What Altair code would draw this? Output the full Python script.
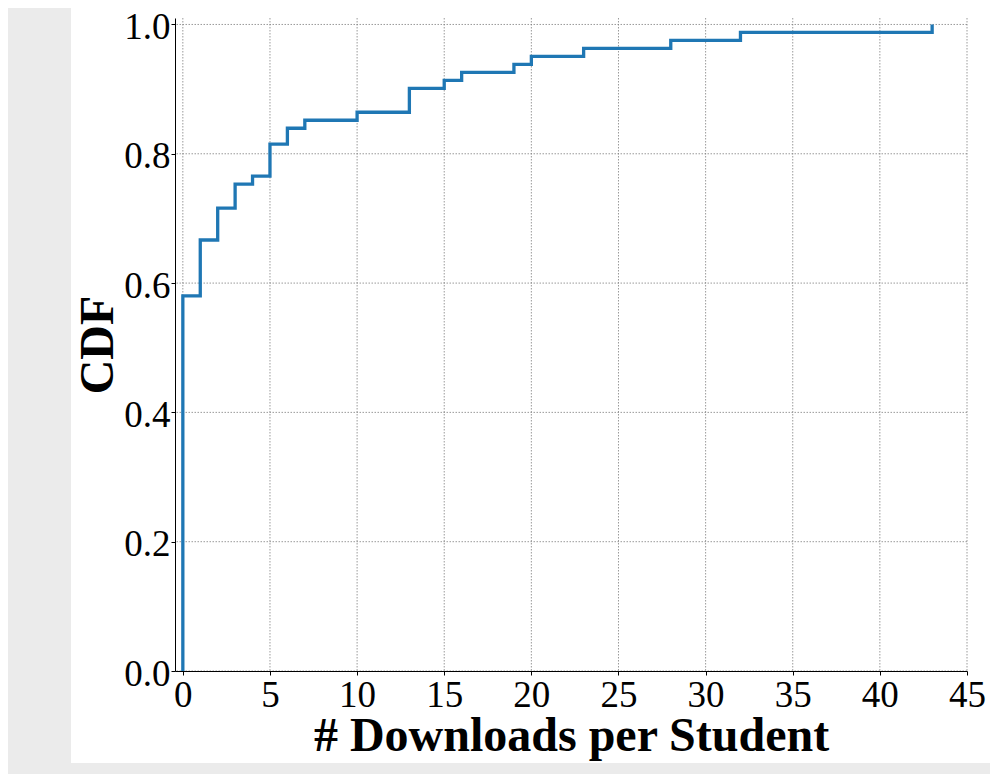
import altair as alt
import pandas as pd

# Number of downloads per student and how many students had that count
downloads = [0, 1, 2, 3, 4, 5, 6, 7, 10, 13, 15, 16, 19, 20, 23, 28, 32, 43]
students = [47, 7, 4, 3, 1, 4, 2, 1, 1, 3, 1, 1, 1, 1, 1, 1, 1, 1]

x_ticks = [0, 5, 10, 15, 20, 25, 30, 35, 40, 45]
y_ticks = [0.0, 0.2, 0.4, 0.6, 0.8, 1.0]

total = sum(students)
xs, ys = [0], [0.0]
cum = 0
for v, c in zip(downloads, students):
    cum += c
    xs.append(v)
    ys.append(cum / total)
line_df = pd.DataFrame({"x": xs, "y": ys, "order": list(range(len(xs)))})

x_scale = alt.Scale(domain=[-0.45, 45], nice=False, zero=False)
y_scale = alt.Scale(domain=[0, 1.01], nice=False, zero=False)

FONT = "Liberation Serif"

x_axis = alt.Axis(
    values=x_ticks, format="d", title="# Downloads per Student",
    grid=False, domainColor="black", domainWidth=1,
    tickColor="black", tickSize=4, tickWidth=1,
    labelFont=FONT, labelFontSize=37, labelColor="black",
    labelPadding=2, labelFlush=False, labelOverlap=False,
    titleFont=FONT, titleFontSize=48, titleFontWeight="bold",
    titleColor="black", titleX=396, titleY=79,
    titleBaseline="alphabetic", zindex=1,
)
y_axis = alt.Axis(
    values=y_ticks, format=".1f", title="CDF",
    grid=False, domainColor="black", domainWidth=1,
    tickColor="black", tickSize=4, tickWidth=1,
    labelFont=FONT, labelFontSize=37, labelColor="black",
    labelPadding=1, labelOffset=3, labelFlush=False, labelOverlap=False,
    titleFont=FONT, titleFontSize=48, titleFontWeight="bold",
    titleColor="black", titleX=-63, titleY=326.5, titleAngle=270,
    titleBaseline="alphabetic", zindex=1,
)

panel = alt.Chart(pd.DataFrame({"a": [0]})).mark_rect(color="white").encode(
    x=alt.value(-104), x2=alt.value(815), y=alt.value(-13), y2=alt.value(745)
)

vgrid = alt.Chart(pd.DataFrame({"x": x_ticks})).mark_rule(
    color="#808080", strokeWidth=0.8, strokeDash=[1.5, 1.5]
).encode(x=alt.X("x:Q", scale=x_scale, axis=x_axis))

hgrid = alt.Chart(pd.DataFrame({"y": y_ticks})).mark_rule(
    color="#808080", strokeWidth=0.8, strokeDash=[1.5, 1.5]
).encode(y=alt.Y("y:Q", scale=y_scale, axis=y_axis))

line = alt.Chart(line_df).mark_line(
    interpolate="step-after", color="#1f77b4", strokeWidth=3.3
).encode(
    x=alt.X("x:Q", scale=x_scale, axis=x_axis),
    y=alt.Y("y:Q", scale=y_scale, axis=y_axis),
    order="order:Q",
)

chart = alt.layer(panel, vgrid, hgrid, line).properties(
    width=792, height=653,
    autosize=alt.AutoSizeParams(type="none"),
    padding={"left": 167, "top": 10, "right": 23, "bottom": 103},
).configure(background="#ebebeb").configure_view(stroke=None)

chart.save("out.html", embed_options={"renderer": "svg", "actions": False})
